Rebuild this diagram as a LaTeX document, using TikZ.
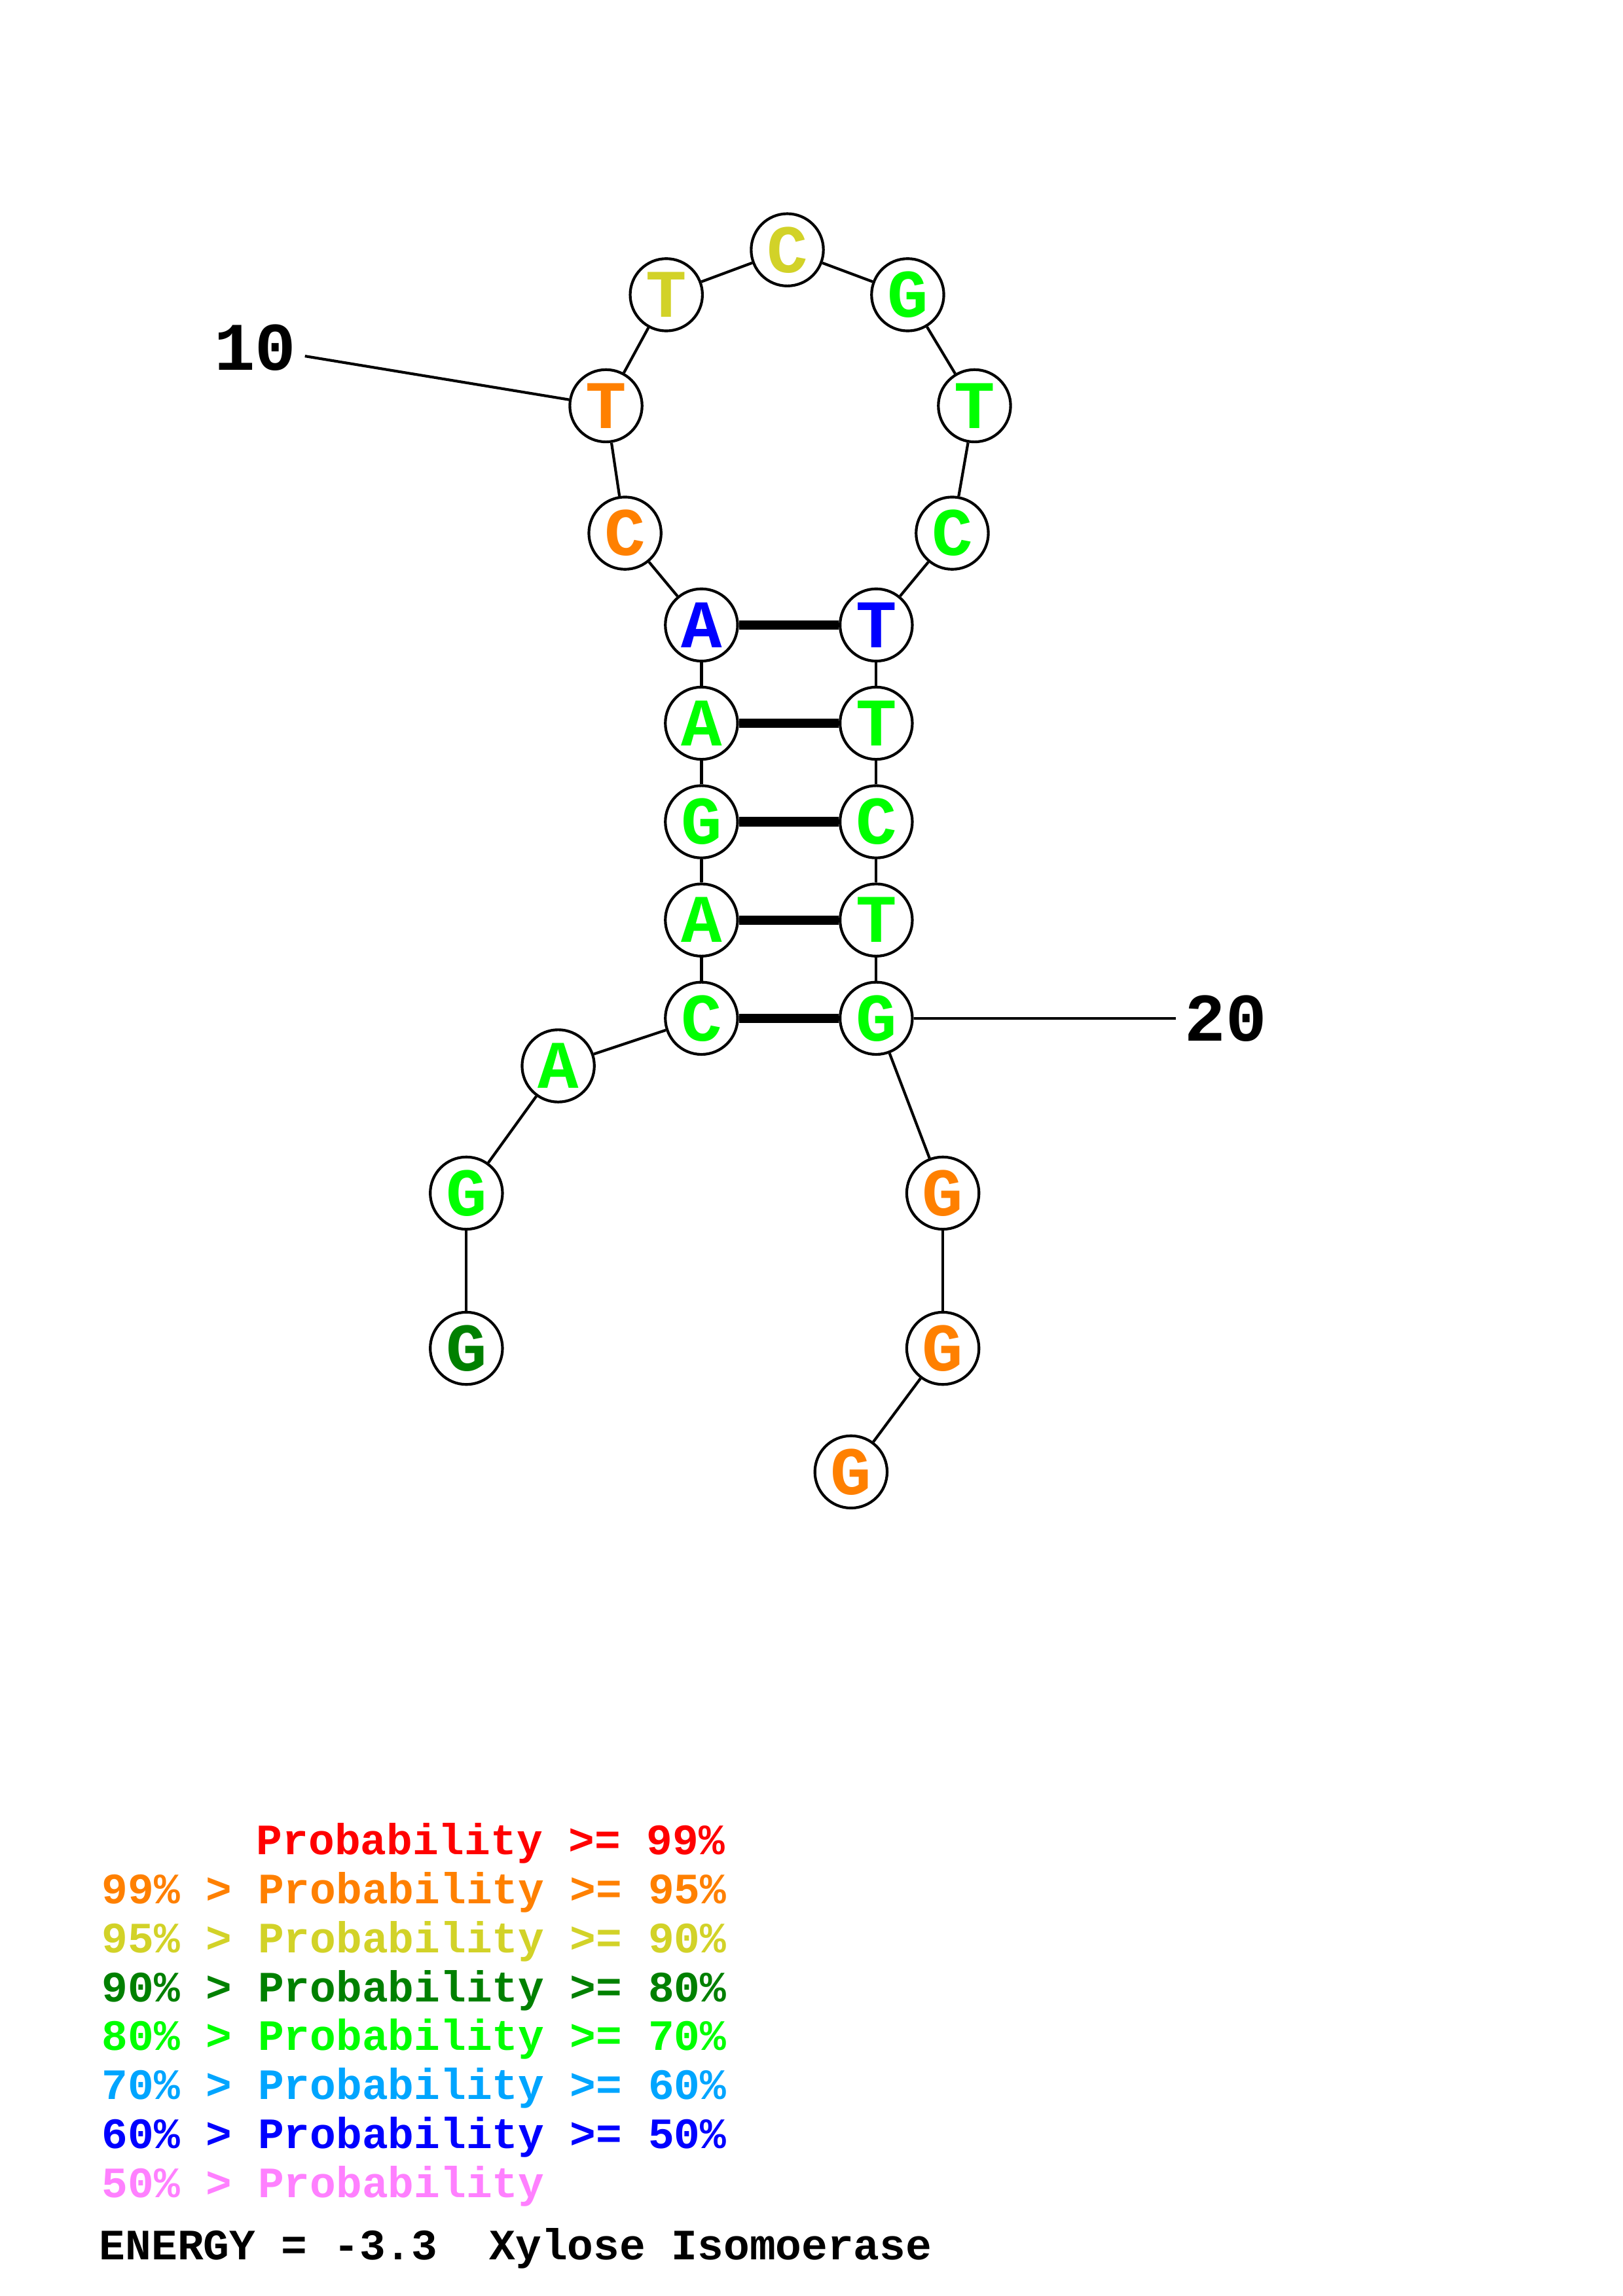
\documentclass[tikz,border=0pt]{standalone}
\usepackage{fontspec}
\setmonofont{Liberation Mono}

\definecolor{p99}{RGB}{255,0,0}
\definecolor{p95}{RGB}{255,128,0}
\definecolor{p90}{RGB}{210,210,40}
\definecolor{p80}{RGB}{0,128,0}
\definecolor{p70}{RGB}{0,255,0}
\definecolor{p60}{RGB}{0,165,255}
\definecolor{p50}{RGB}{0,0,255}
\definecolor{plow}{RGB}{255,128,255}

\tikzset{
  nuc/.style={circle,draw,line width=1pt,fill=white,minimum size=26.5pt,
    inner sep=0pt,font=\ttfamily\bfseries\fontsize{25}{25}\selectfont},
  numlabel/.style={inner sep=3pt,font=\ttfamily\bfseries\fontsize{25}{25}\selectfont},
  bb/.style={line width=1pt},
  bond/.style={line width=3.4pt},
  legtext/.style={anchor=base west,inner sep=0pt,
    font=\ttfamily\bfseries\fontsize{15.9}{16}\selectfont}
}

\begin{document}
\begin{tikzpicture}[x=0.53725pt,y=-0.53725pt]
  \useasboundingbox (0,0) rectangle (1108,1568);

  % x/y/base/colour, 5' to 3'
  \def\seq{318.4/920.8/G/p80, 318.4/814.8/G/p70, 381.1/727.9/A/p70,
    478.9/695.4/C/p70, 478.9/628.3/A/p70, 478.9/561.2/G/p70,
    478.9/493.9/A/p70, 478.9/426.8/A/p50, 426.7/364.1/C/p95,
    413.7/277.1/T/p95, 454.9/201.3/T/p90, 537.5/170.6/C/p90,
    619.7/201.3/G/p70, 665.3/277.1/T/p70, 650.1/364.1/C/p70,
    598.2/426.8/T/p50, 598.2/493.9/T/p70, 598.2/561.2/C/p70,
    598.2/628.3/T/p70, 598.2/695.4/G/p70, 643.7/814.8/G/p95,
    643.7/920.8/G/p95, 581.0/1005.2/G/p95}

  \foreach \x/\y/\b/\c [count=\i] in \seq {
    \node[nuc,text=\c] (n\i) at (\x,\y) {\b};
  }

  % backbone
  \foreach \i in {1,...,22} {
    \pgfmathtruncatemacro{\j}{\i+1}
    \draw[bb] (n\i) -- (n\j);
  }

  % base pairs
  \foreach \a/\b in {4/20,5/19,6/18,7/17,8/16} {
    \draw[bond] (n\a) -- (n\b);
  }

  \node[numlabel] (l10) at (174.3,237.6) {10};
  \node[numlabel] (l20) at (836.8,695.4) {20};
  \draw[bb] (n10) -- (l10);
  \draw[bb] (n20) -- (l20);

  % legend
  \node[legtext,text=p99] (leg0) at (174.8,1266.7) {Probability >= 99\%};
  \foreach \c/\hi/\lo [count=\i] in {p95/99/95,p90/95/90,p80/90/80,
    p70/80/70,p60/70/60,p50/60/50} {
    \node[legtext,text=\c] (leg\i) at (69.3,{1266.7+\i*33.41})
      {\hi\% > Probability >= \lo\%};
  }
  \node[legtext,text=plow] (leg7) at (69.3,1500.6) {50\% > Probability};
  \node[legtext] (energy) at (67.5,1543.3)
    {ENERGY = -3.3\ \ Xylose Isomoerase};

\end{tikzpicture}
\end{document}
